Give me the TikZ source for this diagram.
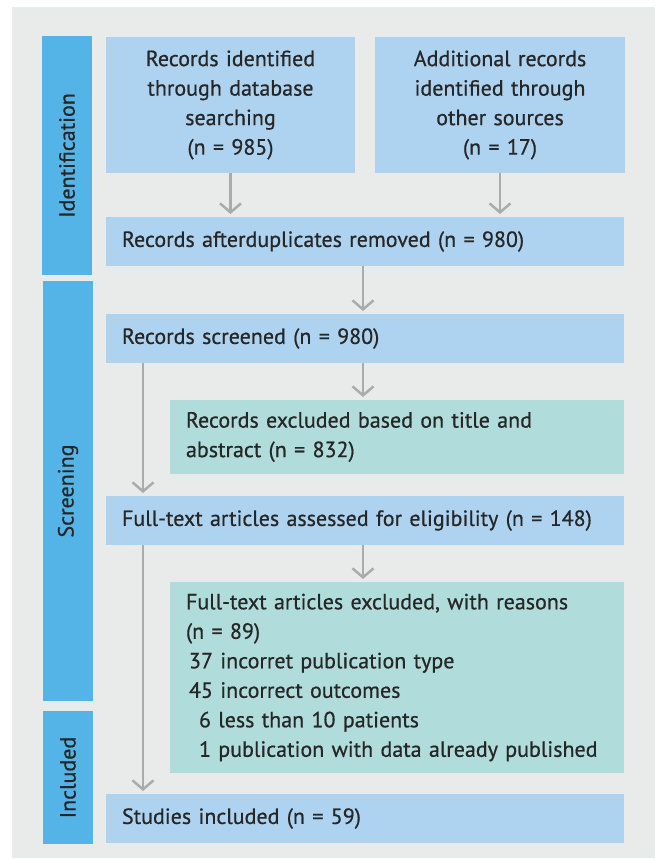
\documentclass[tikz,border=0pt]{standalone}
\usepackage{fontspec}
\setmainfont{PT Sans}[FakeBold=0.6]
\usetikzlibrary{arrows.meta,calc}
\definecolor{bggrey}{HTML}{E9EBEB}
\definecolor{barblue}{HTML}{55B4E7}
\definecolor{boxblue}{HTML}{AED3F0}
\definecolor{boxteal}{HTML}{B0DDDB}
\definecolor{arrgrey}{HTML}{ABABAB}
\definecolor{txt}{HTML}{262626}
\tikzset{
  base/.style={outer sep=0pt, inner sep=0pt, text=txt, font=\fontsize{22}{29.5}\selectfont},
  cbox/.style={base, fill=boxblue, align=center, anchor=north west},
  lbox/.style={base, fill=boxblue, align=left, anchor=north west, inner xsep=16pt},
  tbox/.style={base, fill=boxteal, align=left, anchor=north west, inner xsep=16pt},
  sidebar/.style={base, fill=barblue, rotate=90, minimum height=50pt},
  arr/.style={draw=arrgrey, line width=2.5pt, -{Straight Barb[length=9pt,width=21pt]}, shorten >=3pt},
}
\begin{document}
\begin{tikzpicture}[x=1pt,y=-1pt]
\useasboundingbox (0,0) rectangle (657,860);
\fill[white] (0,0) rectangle (657,860);
\fill[bggrey] (12,7) rectangle (655,858);

% side bars
\node[sidebar, minimum width=239pt] (idbar) at (67,155.5) {Identification};
\node[sidebar, minimum width=420pt] (scbar) at (68,491) {Screening};
\node[sidebar, minimum width=133pt] (inbar) at (68,777.5) {Included};

% boxes
\node[cbox, minimum width=249pt, minimum height=136pt, text width=240pt] (db) at (106,37)
  {Records identified\\through database\\searching\\(n = 985)};
\node[cbox, minimum width=250pt, minimum height=136pt, text width=240pt] (other) at (375,37)
  {Additional records\\identified through\\other sources\\(n = 17)};
\node[lbox, minimum width=518pt, minimum height=49pt, text width=486pt] (dup) at (106,217)
  {Records afterduplicates removed (n = 980)};
\node[lbox, minimum width=518pt, minimum height=49pt, text width=486pt] (scr) at (106,314)
  {Records screened (n = 980)};
\node[tbox, minimum width=454pt, minimum height=74pt, text width=422pt] (exc) at (170,400)
  {Records excluded based on title and\\abstract (n = 832)};
\node[lbox, minimum width=518pt, minimum height=49pt, text width=486pt] (ft) at (106,496)
  {Full-text articles assessed for eligibility (n = 148)};
\node[tbox, minimum width=454pt, minimum height=191pt, text width=422pt] (exc2) at (170,582)
  {Full-text articles excluded, with reasons\\(n = 89)\\
   \hspace*{3pt}37 incorret publication type\\
   \hspace*{3pt}45 incorrect outcomes\\
   \hspace*{13pt}6 less than 10 patients\\
   \hspace*{13pt}1 publication with data already published};
\node[lbox, minimum width=518pt, minimum height=49pt, text width=486pt] (inc) at (106,794)
  {Studies included (n = 59)};

% arrows
\draw[arr] (db.south) -- (db.south |- dup.north);
\draw[arr] (other.south) -- (other.south |- dup.north);
\draw[arr] ([xshift=-2pt]dup.south) -- ([xshift=-2pt]dup.south |- scr.north);
\draw[arr] ([xshift=-2pt]scr.south) -- ([xshift=-2pt]scr.south |- exc.north);
\draw[arr] ([xshift=37pt]scr.south west) -- ([xshift=37pt]ft.north west);
\draw[arr] ([xshift=-2pt]ft.south) -- ([xshift=-2pt]ft.south |- exc2.north);
\draw[arr] ([xshift=37pt]ft.south west) -- ([xshift=37pt]inc.north west);
\end{tikzpicture}
\end{document}
